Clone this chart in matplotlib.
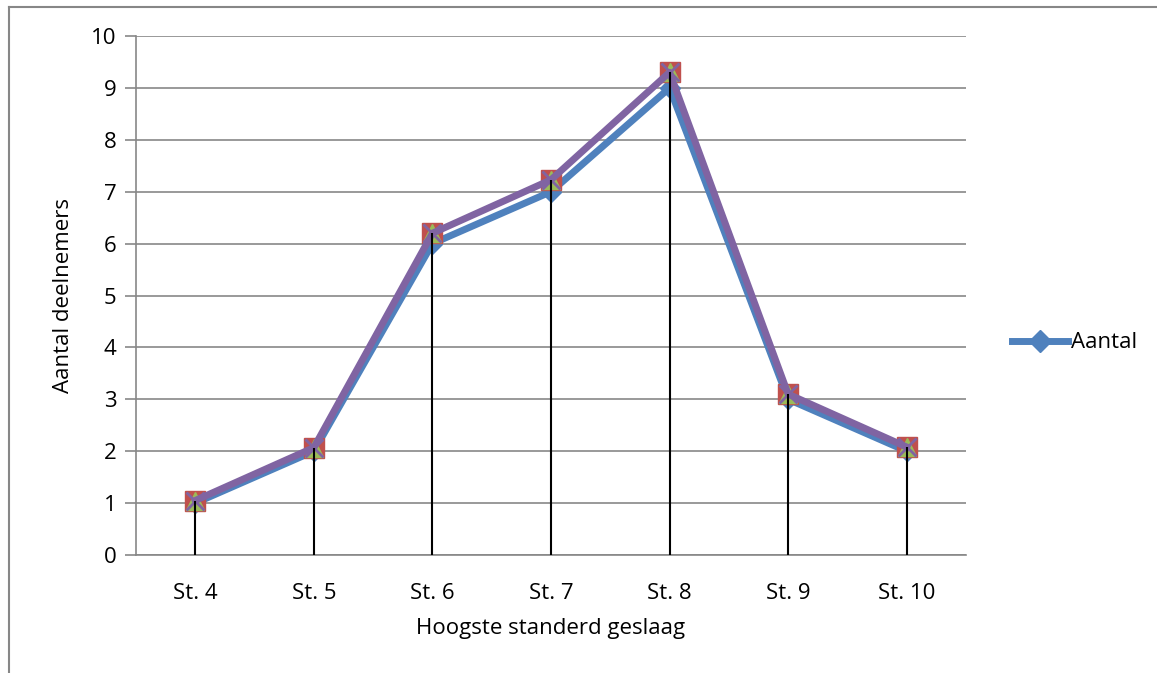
import matplotlib
matplotlib.use("Agg")
import matplotlib.pyplot as plt
from matplotlib.lines import Line2D

# Data
categories = ["St. 4", "St. 5", "St. 6", "St. 7", "St. 8", "St. 9", "St. 10"]
aantal = [1, 2, 6, 7, 9, 3, 2]
# the overlaid series (red squares, green triangles, purple crosses)
series_red = [1.05, 2.07, 6.2, 7.23, 9.3, 3.1, 2.08]
series_green = [1.05, 2.07, 6.2, 7.23, 9.3, 3.1, 2.08]
series_purple = [1.05, 2.07, 6.2, 7.23, 9.3, 3.1, 2.08]
yticks = list(range(0, 11))

plt.rcParams['font.family'] = ['Open Sans', 'DejaVu Sans']

fig = plt.figure(figsize=(11.57, 6.73), dpi=100)
ax = fig.add_axes([136 / 1157, 1 - 555 / 673, (966 - 136) / 1157, (555 - 36) / 673])

x = list(range(len(categories)))

# gridlines
for v in yticks:
    ax.axhline(v, color='#878787', lw=1.2, zorder=0)

# drop lines from the highest point to the axis
tops = [max(a, b) for a, b in zip(aantal, series_purple)]

ax.plot(x, aantal, color='#4F81BD', lw=5, marker='D', markersize=10,
        markerfacecolor='#4F81BD', markeredgecolor='#4F81BD', zorder=2)
ax.plot(x, series_red, color='#C0504D', lw=0, marker='s', markersize=15,
        markerfacecolor='#C0504D', markeredgecolor='#C0504D', zorder=3)
ax.plot(x, series_green, color='#9BBB59', lw=0, marker='^', markersize=13,
        markerfacecolor='#9BBB59', markeredgecolor='#9BBB59', zorder=4)
ax.plot(x, series_purple, color='#8064A2', lw=5, marker='x', markersize=13,
        markeredgewidth=2, zorder=5)
ax.vlines(x, 0, tops, color='black', lw=1.5, zorder=6)

ax.set_xlim(-0.5, len(categories) - 0.5)
ax.set_ylim(0, 10)
ax.set_yticks(yticks)
ax.set_xticks(x)
ax.set_xticklabels(categories)

for s in ['top', 'right']:
    ax.spines[s].set_visible(False)
ax.spines['left'].set_color('#878787')
ax.spines['bottom'].set_color('#878787')
ax.spines['left'].set_linewidth(1.2)
ax.spines['bottom'].set_linewidth(1.2)
ax.tick_params(axis='y', length=8, width=1.2, color='#878787', labelsize=16, pad=6)
ax.tick_params(axis='x', length=0, labelsize=16, pad=20)

ax.set_xlabel('Hoogste standerd geslaag', fontsize=16, labelpad=10)
ax.set_ylabel('Aantal deelnemers', fontsize=16, labelpad=12)

handle = Line2D([], [], color='#4F81BD', lw=5, marker='D', markersize=11)
fig.legend([handle], ['Aantal'], loc='center left',
           bbox_to_anchor=(992 / 1157, 1 - 343 / 673), frameon=False,
           fontsize=16, handlelength=2.5, handletextpad=0.15)

# outer chart border
fig.add_artist(Line2D([9 / 1157, 9 / 1157], [0, 1 - 7 / 673], color='#878787', lw=1.5))
fig.add_artist(Line2D([9 / 1157, 1], [1 - 7 / 673, 1 - 7 / 673], color='#878787', lw=1.5))

fig.savefig('out.png', dpi=100)
